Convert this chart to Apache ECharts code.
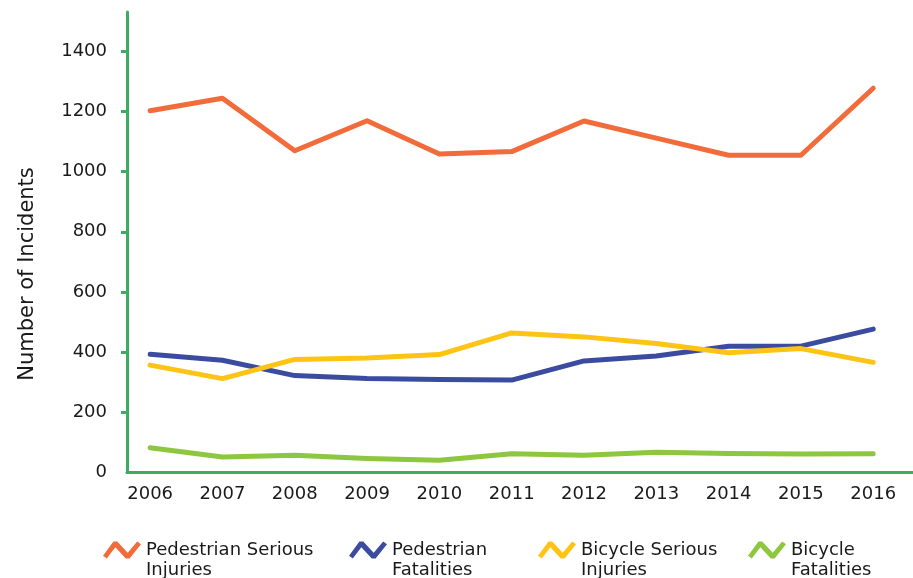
<!DOCTYPE html>
<html><head><meta charset="utf-8">
<script src="https://cdn.jsdelivr.net/npm/echarts@6/dist/echarts.min.js"></script>
<style>html,body{margin:0;padding:0;background:#fff}#c{width:913px;height:578px}</style>
</head><body><div id="c"></div>
<script>
const years = [2006, 2007, 2008, 2009, 2010, 2011, 2012, 2013, 2014, 2015, 2016];
const pedSerious = [1203, 1245, 1070, 1170, 1059, 1067, 1169, 1112, 1055, 1055, 1278];
const pedFatal = [392, 372, 321, 311, 308, 306, 370, 386, 419, 419, 476];
const bikeSerious = [356, 311, 375, 380, 391, 463, 450, 428, 397, 411, 365];
const bikeFatal = [81, 50, 56, 45, 39, 61, 56, 66, 62, 60, 61];
const yTicks = [0, 200, 400, 600, 800, 1000, 1200, 1400];
const seriesNames = ['Pedestrian Serious Injuries', 'Pedestrian Fatalities', 'Bicycle Serious Injuries', 'Bicycle Fatalities'];
const legendLabels = ['Pedestrian Serious\nInjuries', 'Pedestrian\nFatalities', 'Bicycle Serious\nInjuries', 'Bicycle\nFatalities'];
const colors = ['#f26b3a', '#3b4ca0', '#fdc315', '#8dc63f'];
const allValues = [pedSerious, pedFatal, bikeSerious, bikeFatal];

const axisGreen = '#3dab63';
const font = 'DejaVu Sans';
const zig = 'path://M0,16 L11,1 L15,1 L26,13 L36,1 L40,4 L28,19 L24,19 L13,7 L4,19 Z';
const legendLefts = [103, 349, 538, 748];

const chart = echarts.init(document.getElementById('c'));
chart.setOption({
  animation: false,
  grid: {left: 127, right: 0, top: 12, bottom: 106, containLabel: false},
  xAxis: {
    type: 'value', min: 2005.68, max: 2016.55,
    axisLine: {show: true, onZero: false, lineStyle: {color: axisGreen, width: 3}},
    axisTick: {show: false},
    splitLine: {show: false},
    axisLabel: {customValues: years, formatter: v => String(v), color: '#1a1a1a', fontFamily: font, fontSize: 18, margin: 13}
  },
  yAxis: {
    type: 'value', min: 0, max: 1532,
    axisLine: {show: true, lineStyle: {color: axisGreen, width: 3}},
    axisTick: {show: true, customValues: yTicks.slice(1), length: 6, lineStyle: {color: axisGreen, width: 3}},
    splitLine: {show: false},
    axisLabel: {customValues: yTicks, formatter: v => String(v), color: '#1a1a1a', fontFamily: font, fontSize: 18, margin: 20}
  },
  legend: seriesNames.map((n, i) => ({
    data: [n], left: legendLefts[i], top: 520, padding: 0,
    icon: zig, itemWidth: 38, itemHeight: 18,
    formatter: () => '\n' + legendLabels[i],
    textStyle: {color: '#1a1a1a', fontFamily: font, fontSize: 18, lineHeight: 20}
  })),
  graphic: [{
    type: 'text', x: 28, y: 274, rotation: Math.PI / 2,
    style: {text: 'Number of Incidents', fontFamily: 'DejaVu Sans', fontSize: 21, fill: '#1a1a1a', align: 'center', verticalAlign: 'middle'}
  }],
  series: seriesNames.map((n, i) => ({
    name: n, type: 'line', showSymbol: false, symbol: 'none',
    data: years.map((y, j) => [y, allValues[i][j]]),
    lineStyle: {width: 5, color: colors[i], cap: 'round', join: 'round'},
    itemStyle: {color: colors[i]}
  }))
});
</script></body></html>
